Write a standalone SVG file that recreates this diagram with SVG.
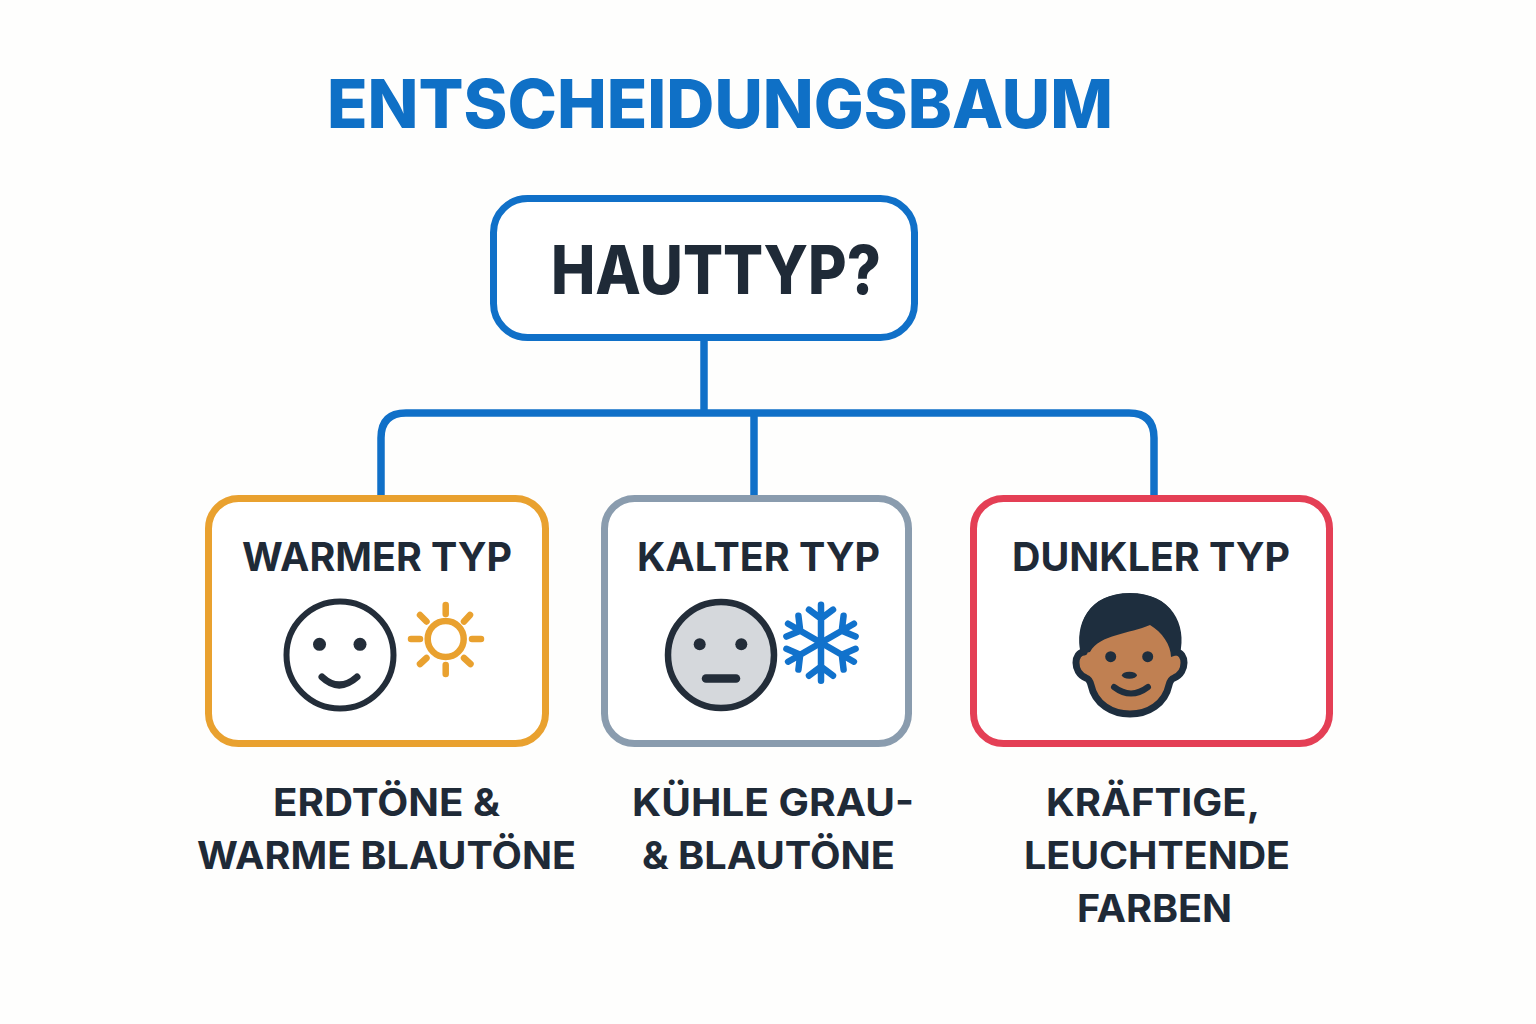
<svg xmlns="http://www.w3.org/2000/svg" width="1536" height="1024" viewBox="0 0 1536 1024">
<style>
text{font-family:Inter,"Noto Sans",sans-serif;font-weight:700}
.t{fill:#1f2a37;text-anchor:middle}
.h{font-size:40px}
.l{font-size:38px}
.box{fill:#fff;stroke-width:7}
.conn{fill:none;stroke:#1070c8;stroke-width:7.500}
.d{fill:none;stroke:#232d39;stroke-linecap:round}
.sun{fill:none;stroke:#e9a12f;stroke-width:6.500;stroke-linecap:round}
.snow{fill:none;stroke:#1172cc;stroke-width:6.500;stroke-linecap:round;stroke-linejoin:round}
</style>
<defs><path id="arm" class="snow" d="M0 0V-38M-12 -33L0 -24L12 -33"/></defs>
<rect width="1536" height="1024" fill="#fefefd"/>
<text id="title" x="720" y="128" font-size="68" style="font-weight:800" fill="#0f70c6" text-anchor="middle" textLength="786" lengthAdjust="spacingAndGlyphs">ENTSCHEIDUNGSBAUM</text>
<g id="connectors">
<path class="conn" d="M704 338V413"/>
<path class="conn" d="M381 496V438Q381 413 406 413H1129Q1154 413 1154 438V496"/>
<path class="conn" d="M754 413V496"/>
</g>
<g id="root">
<rect class="box" x="493.500" y="198.500" width="421" height="139" rx="34" stroke="#1070c8"/>
<text class="t" x="716" y="294" font-size="67" style="font-weight:800" textLength="330" lengthAdjust="spacingAndGlyphs">HAUTTYP?</text>
</g>
<g id="warm">
<rect class="box" x="208.500" y="498.500" width="337" height="245" rx="30" stroke="#e9a12f"/>
<text class="t h" x="377" y="571" textLength="270" lengthAdjust="spacingAndGlyphs">WARMER TYP</text>
<circle class="d" cx="340" cy="655" r="53.500" stroke-width="6"/>
<circle cx="319.500" cy="644.300" r="6.500" fill="#232d39"/>
<circle cx="360" cy="644.300" r="6.500" fill="#232d39"/>
<path class="d" stroke-width="7" d="M322 677Q339 693 357 677"/>
<g id="sun">
<circle class="sun" cx="445.700" cy="639" r="18"/>
<path class="sun" d="M445.700 605V614M445.700 665V674M411 639H420M472 639H481M420 615L426.500 621.500M470 615L464 621.500M420 664L426.500 658M470.500 664L464 658"/>
</g>
<text class="t l" x="386.500" y="816" textLength="227" lengthAdjust="spacingAndGlyphs">ERDTÖNE &amp;</text>
<text class="t l" x="386.500" y="869" textLength="379" lengthAdjust="spacingAndGlyphs">WARME BLAUTÖNE</text>
</g>
<g id="cold">
<rect class="box" x="604.500" y="498.500" width="304" height="245" rx="30" stroke="#8a9cae"/>
<text class="t h" x="758.500" y="571" textLength="243" lengthAdjust="spacingAndGlyphs">KALTER TYP</text>
<circle cx="721" cy="655" r="53" fill="#d5d8dc" stroke="#232d39" stroke-width="6.500"/>
<circle cx="699.700" cy="644.300" r="6" fill="#232d39"/>
<circle cx="741.300" cy="644.300" r="6" fill="#232d39"/>
<path class="d" stroke-width="8.500" d="M706 678.500H736"/>
<g id="snow" transform="translate(821 642.700)">
<use href="#arm"/>
<use href="#arm" transform="rotate(60)"/>
<use href="#arm" transform="rotate(120)"/>
<use href="#arm" transform="rotate(180)"/>
<use href="#arm" transform="rotate(240)"/>
<use href="#arm" transform="rotate(300)"/>
</g>
<text class="t l" x="773" y="816" textLength="282" lengthAdjust="spacingAndGlyphs">KÜHLE GRAU-</text>
<text class="t l" x="768.500" y="869" textLength="253" lengthAdjust="spacingAndGlyphs">&amp; BLAUTÖNE</text>
</g>
<g id="dark">
<rect class="box" x="973.500" y="498.500" width="356" height="245" rx="30" stroke="#e43f55"/>
<text class="t h" x="1151" y="571" textLength="278" lengthAdjust="spacingAndGlyphs">DUNKLER TYP</text>
<path d="M1084 652C1074 652 1072 672 1086 678C1089 679 1090 681 1091 685C1095 704 1112 714 1130 714C1148 714 1165 704 1169 685C1170 681 1171 679 1174 678C1188 672 1186 652 1176 652C1180 625 1170 597 1130 597C1090 597 1080 625 1084 652Z" fill="#c08052" stroke="#1e2e3e" stroke-width="7" stroke-linejoin="round"/>
<path d="M1081 654C1074 625 1088 593 1130 593C1172 593 1187 625 1180 654L1171 657C1171 645 1162 632 1150 625C1130 634 1100 634 1090 652Z" fill="#1e2e3e"/>
<circle cx="1110.700" cy="656.700" r="5.500" fill="#1e2e3e"/>
<circle cx="1147.700" cy="656.700" r="5.500" fill="#1e2e3e"/>
<ellipse cx="1129.400" cy="675.200" rx="7.500" ry="3.500" fill="#1e2e3e"/>
<path d="M1114 687Q1131 700 1148 687" fill="none" stroke="#1e2e3e" stroke-width="6" stroke-linecap="round"/>
<text class="t l" x="1153" y="816" textLength="214" lengthAdjust="spacingAndGlyphs">KRÄFTIGE,</text>
<text class="t l" x="1157" y="869" textLength="266" lengthAdjust="spacingAndGlyphs">LEUCHTENDE</text>
<text class="t l" x="1154.500" y="922" textLength="155" lengthAdjust="spacingAndGlyphs">FARBEN</text>
</g>
</svg>
